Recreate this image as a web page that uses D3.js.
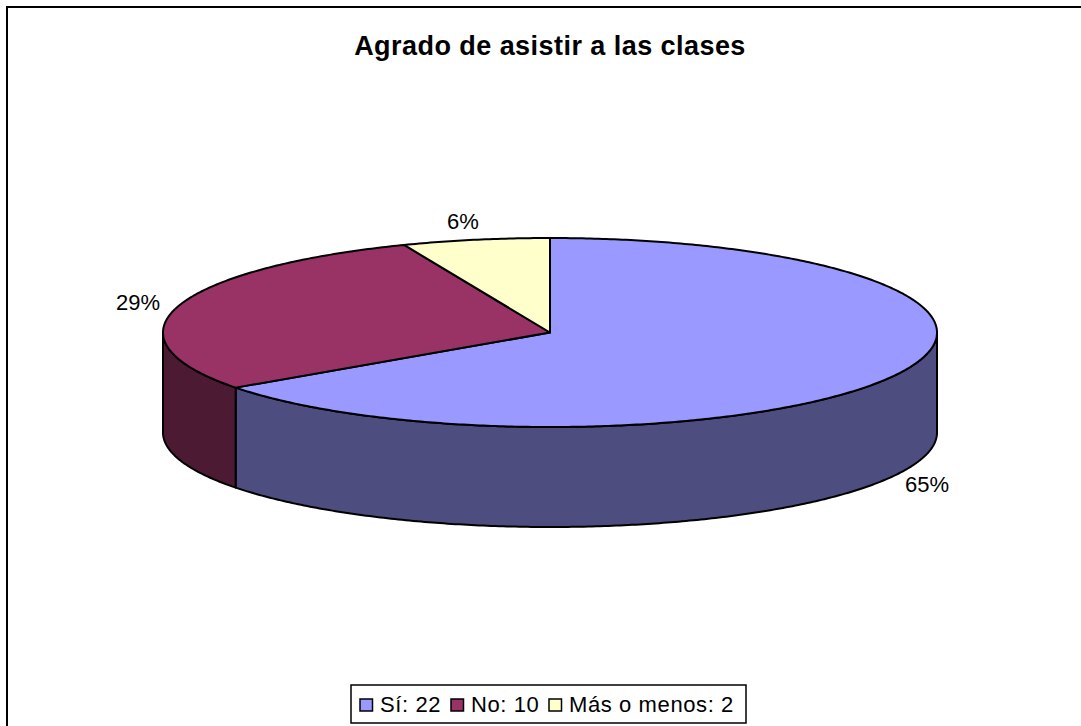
<!DOCTYPE html>
<html><head><meta charset="utf-8">
<script src="https://cdn.jsdelivr.net/npm/d3@7"></script>
<style>html,body{margin:0;background:#fff}svg{display:block}text{font-family:"Liberation Sans",Arial,sans-serif;fill:#000}</style>
</head><body><svg id="c" width="1081" height="726"></svg>
<script>
const categories = ["Sí","No","Más o menos"];
const values = [22,10,2];
const percentLabels = ["65%","29%","6%"];
const colors = ["#9999FF","#993366","#FFFFCC"];
const sideColors = ["#4D4D7F","#4D1A33","#80805F"];
const titleText = "Agrado de asistir a las clases";

const svg=d3.select("#c");
svg.append("rect").attr("x",7).attr("y",7).attr("width",1200).attr("height",900).attr("fill","#fff").attr("stroke","#000").attr("stroke-width",2);
svg.append("text").attr("x",550).attr("y",55).attr("text-anchor","middle").attr("font-size",27).attr("letter-spacing",0.45).attr("font-weight","bold").text(titleText);

const cx=550,cy=332.5,rx=387,ry=94.5,depth=100;
const pie=d3.pie().sort(null).value(d=>d)(values);
// slight perspective warp of the rim angle, as in the tilted 3-D view
const warp=a=>a+0.025*Math.sin(2*a);
const px=a=>cx+rx*Math.sin(warp(a)), py=a=>cy-ry*Math.cos(warp(a));
const arcPts=(a0,a1)=>{const n=Math.max(2,Math.ceil((a1-a0)/0.01));return d3.range(n+1).map(i=>{const a=a0+(a1-a0)*i/n;return [px(a),py(a)]})};
const line=d3.line();
const g=svg.append("g").attr("stroke","#000").attr("stroke-width",2).attr("stroke-linejoin","round");

pie.forEach((s,i)=>{
  const a0=Math.max(s.startAngle,Math.PI/2),a1=Math.min(s.endAngle,3*Math.PI/2);
  if(a1<=a0)return;
  const top=arcPts(a0,a1);
  const bot=top.map(p=>[p[0],p[1]+depth]).reverse();
  g.append("path").attr("d",line(top.concat(bot))+"Z").attr("fill",sideColors[i]);
});
pie.forEach((s,i)=>{
  g.append("path").attr("d",line([[cx,cy]].concat(arcPts(s.startAngle,s.endAngle)))+"Z").attr("fill",colors[i]);
});

const labelPos=[[927,492],[138,310],[463,229]];
percentLabels.forEach((t,i)=>{
  svg.append("text").attr("x",labelPos[i][0]).attr("y",labelPos[i][1]).attr("text-anchor","middle").attr("font-size",22).text(t);
});

const leg=svg.append("g");
leg.append("rect").attr("x",351).attr("y",685).attr("width",395).attr("height",38).attr("fill","#fff").attr("stroke","#000").attr("stroke-width",1.5);
const items=[[360,380],[451,471],[549,569]];
categories.forEach((c,i)=>{
  leg.append("rect").attr("x",items[i][0]).attr("y",699).attr("width",12.5).attr("height",12).attr("fill",colors[i]).attr("stroke","#000").attr("stroke-width",1.5);
  leg.append("text").attr("x",items[i][1]).attr("y",712).attr("font-size",22).attr("letter-spacing",0.6).text(c+": "+values[i]);
});
</script></body></html>
